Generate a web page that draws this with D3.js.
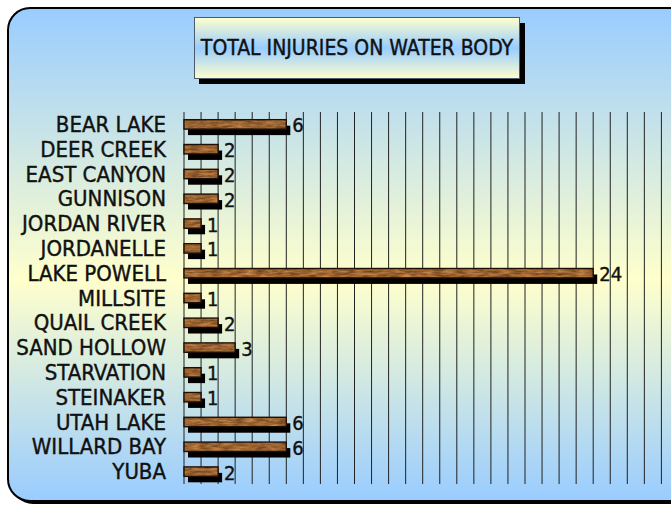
<!DOCTYPE html>
<html>
<head>
<meta charset="utf-8">
<script src="https://cdn.jsdelivr.net/npm/d3@7"></script>
<style>
  html, body { margin: 0; padding: 0; background: #fff; }
  .canvas svg { display: block; }
  text { font-family: "Liberation Sans Narrow", "DejaVu Sans Condensed", sans-serif; fill: #111; }
</style>
</head>
<body>
<div class="canvas"></div>
<script>
// data
const waterBodies = ['BEAR LAKE', 'DEER CREEK', 'EAST CANYON', 'GUNNISON', 'JORDAN RIVER', 'JORDANELLE',
  'LAKE POWELL', 'MILLSITE', 'QUAIL CREEK', 'SAND HOLLOW', 'STARVATION', 'STEINAKER',
  'UTAH LAKE', 'WILLARD BAY', 'YUBA'];
const injuries = [6, 2, 2, 2, 1, 1, 24, 1, 2, 3, 1, 1, 6, 6, 2];
const chartTitle = 'TOTAL INJURIES ON WATER BODY';

const dims = {width: 671, height: 506};
const plot = {left: 184, top: 112, bottom: 484, unit: 17.05};

const svg = d3.select('.canvas').append('svg')
  .attr('width', dims.width)
  .attr('height', dims.height);

const defs = svg.append('defs');

// panel gradient blue - yellow - blue
const bg = defs.append('linearGradient').attr('id', 'bg')
  .attr('x1', 0).attr('y1', 0).attr('x2', 0).attr('y2', 1);
bg.append('stop').attr('offset', '0%').attr('stop-color', '#99ccff');
bg.append('stop').attr('offset', '55%').attr('stop-color', '#ffffcc');
bg.append('stop').attr('offset', '100%').attr('stop-color', '#99ccff');

const tg = defs.append('linearGradient').attr('id', 'titleBg')
  .attr('x1', 0).attr('y1', 0).attr('x2', 0).attr('y2', 1);
tg.append('stop').attr('offset', '0%').attr('stop-color', '#ffffcc');
tg.append('stop').attr('offset', '50%').attr('stop-color', '#99ccff');
tg.append('stop').attr('offset', '100%').attr('stop-color', '#ffffcc');

// wood texture
const wood = defs.append('filter').attr('id', 'wood')
  .attr('color-interpolation-filters', 'sRGB')
  .attr('x', '-5%').attr('y', '-20%').attr('width', '110%').attr('height', '140%');
wood.append('feTurbulence')
  .attr('type', 'fractalNoise')
  .attr('baseFrequency', '0.09 0.45')
  .attr('numOctaves', 3)
  .attr('seed', 4)
  .attr('result', 'noise');
wood.append('feColorMatrix')
  .attr('in', 'noise')
  .attr('type', 'matrix')
  .attr('values', '0.55 0 0 0 0.33  0.4 0 0 0 0.19  0.25 0 0 0 0.07  0 0 0 0 1')
  .attr('result', 'tone');
wood.append('feComposite')
  .attr('in', 'tone').attr('in2', 'SourceGraphic').attr('operator', 'in');

// panel
svg.append('rect')
  .attr('x', 11).attr('y', 11)
  .attr('width', 720).attr('height', 493)
  .attr('rx', 22)
  .attr('fill', '#000');
svg.append('rect')
  .attr('x', 8).attr('y', 8)
  .attr('width', 720).attr('height', 493)
  .attr('rx', 22)
  .attr('fill', 'url(#bg)')
  .attr('stroke', '#000')
  .attr('stroke-width', 2);

// title box
const title = svg.append('g');
title.append('rect')
  .attr('x', 199).attr('y', 23)
  .attr('width', 326).attr('height', 61)
  .attr('fill', '#000');
title.append('rect')
  .attr('x', 194.5).attr('y', 17.5)
  .attr('width', 325).attr('height', 61)
  .attr('fill', 'url(#titleBg)')
  .attr('stroke', '#4d5a6b')
  .attr('stroke-width', 1);
title.append('text')
  .attr('x', 357).attr('y', 48)
  .attr('text-anchor', 'middle')
  .attr('dominant-baseline', 'central')
  .attr('font-size', 21)
  .attr('stroke', '#111').attr('stroke-width', 0.4)
  .text(chartTitle);

// scales
const x = d3.scaleLinear()
  .domain([0, 30])
  .range([plot.left, plot.left + 30 * plot.unit]);

const y = d3.scaleBand()
  .domain(waterBodies)
  .range([plot.top, plot.bottom])
  .paddingInner(0.62)
  .paddingOuter(0.31);

const graph = svg.append('g');

// vertical grid lines
graph.append('g')
  .selectAll('line')
  .data(x.ticks(30))
  .enter().append('line')
  .attr('x1', d => x(d)).attr('x2', d => x(d))
  .attr('y1', plot.top).attr('y2', plot.bottom)
  .attr('stroke', '#222')
  .attr('stroke-width', 1);

// category labels
graph.append('g')
  .selectAll('text')
  .data(waterBodies)
  .enter().append('text')
  .attr('x', 166)
  .attr('y', d => y(d) + y.bandwidth() / 2)
  .attr('text-anchor', 'end')
  .attr('dominant-baseline', 'central')
  .attr('font-size', 22)
  .attr('stroke', '#111').attr('stroke-width', 0.4)
  .text(d => d);

const rows = waterBodies.map((name, i) => ({name, value: injuries[i]}));

// bar shadows
graph.append('g')
  .selectAll('rect')
  .data(rows)
  .enter().append('rect')
  .attr('x', x(0) + 4)
  .attr('y', d => y(d.name) + 6)
  .attr('width', d => x(d.value) - x(0))
  .attr('height', y.bandwidth())
  .attr('fill', '#000');

// wooden bars
const bars = graph.append('g');
bars.selectAll('rect.fill')
  .data(rows)
  .enter().append('rect')
  .attr('class', 'fill')
  .attr('x', x(0))
  .attr('y', d => y(d.name))
  .attr('width', d => x(d.value) - x(0))
  .attr('height', y.bandwidth())
  .attr('fill', '#9e6a3c')
  .attr('filter', 'url(#wood)');
bars.selectAll('rect.edge')
  .data(rows)
  .enter().append('rect')
  .attr('class', 'edge')
  .attr('x', x(0))
  .attr('y', d => y(d.name))
  .attr('width', d => x(d.value) - x(0))
  .attr('height', y.bandwidth())
  .attr('fill', 'none')
  .attr('stroke', '#1e1005')
  .attr('stroke-width', 1.4);

// value labels
graph.append('g')
  .selectAll('text')
  .data(rows)
  .enter().append('text')
  .attr('x', d => x(d.value) + 6)
  .attr('y', d => y(d.name) + y.bandwidth() / 2 + 1)
  .attr('dominant-baseline', 'central')
  .attr('font-size', 20)
  .attr('stroke', '#111').attr('stroke-width', 0.4)
  .text(d => d.value);
</script>
</body>
</html>
